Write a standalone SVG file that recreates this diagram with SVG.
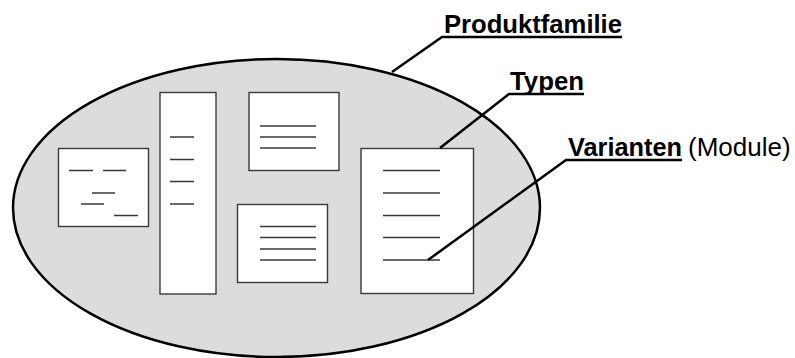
<svg xmlns="http://www.w3.org/2000/svg" width="795" height="358" viewBox="0 0 795 358">
<style>
.fam{fill:#dcdcdc;stroke:#000;stroke-width:2.5}
.box{fill:#fff;stroke:#3a3a3a;stroke-width:1.4}
.ln{stroke:#3a3a3a;stroke-width:1.4;fill:none}
.lead{stroke:#000;stroke-width:2.5;fill:none}
.lb{font-family:"Liberation Sans",Arial,sans-serif;font-weight:bold;font-size:25px;fill:#000}
.lr{font-family:"Liberation Sans",Arial,sans-serif;font-size:26px;fill:#000}
</style>
<g id="produktfamilie">
<ellipse class="fam" cx="276.5" cy="208" rx="263.5" ry="149"/>
</g>
<g id="typ1">
<rect class="box" x="58.5" y="148.5" width="90" height="78"/>
<path class="ln" d="M69 170.5H93M103 170.5H126M92 193H115M81 204H104M114 215.5H138"/>
</g>
<g id="typ2">
<rect class="box" x="160" y="92.5" width="56" height="201.5"/>
<path class="ln" d="M170 137H194M170 159.5H194M170 181.5H194M170 204H194"/>
</g>
<g id="typ3">
<rect class="box" x="249" y="92.5" width="90" height="78"/>
<path class="ln" d="M260 126H316M260 137H316M260 148H316"/>
</g>
<g id="typ4">
<rect class="box" x="237.5" y="204.5" width="90" height="78"/>
<path class="ln" d="M260 226.5H316M260 237.5H316M260 249H316M260 260H316"/>
</g>
<g id="typ5">
<rect class="box" x="361" y="148.5" width="112.5" height="145"/>
<path class="ln" d="M383 170.5H440M383 193H440M383 215.5H440M383 237.5H440M383 260H440"/>
</g>
<g id="connectors">
<path class="lead" d="M392 72L442 37H622"/>
<path class="lead" d="M440 148L509 94H584"/>
<path class="lead" d="M428 260L566 160H682"/>
</g>
<g id="labels">
<text class="lb" x="444" y="33" textLength="178" lengthAdjust="spacingAndGlyphs">Produktfamilie</text>
<text class="lb" x="510" y="90" textLength="74" lengthAdjust="spacingAndGlyphs">Typen</text>
<text class="lb" x="568" y="155.5" textLength="114" lengthAdjust="spacingAndGlyphs">Varianten</text>
<text class="lr" x="688" y="155.5">(Module)</text>
</g>
</svg>
